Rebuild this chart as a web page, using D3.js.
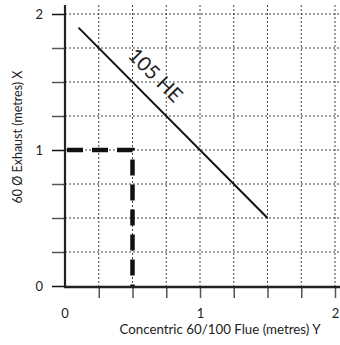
<!DOCTYPE html>
<meta charset="utf-8">
<style>
body { margin: 0; background: #fff; }
svg text { font-family: "Lato", "Open Sans", sans-serif; fill: #222; }
.grid line { stroke: #444; stroke-width: 1; stroke-dasharray: 2,2; }
</style>
<svg width="340" height="345"></svg>
<script src="https://d3js.org/d3.v7.min.js"></script>
<script>
"use strict";

// data
var gridSteps = [0.25, 0.5, 0.75, 1, 1.25, 1.5, 1.75, 2];
var tickLabels = [0, 1, 2];
var flueLine = [[0.1, 1.9], [1.5, 0.5]];      // 105 HE limit
var exampleRun = [[0, 1], [0.5, 1], [0.5, 0]];  // thick dashed example
var lineLabel = "105 HE";
var xTitle = "Concentric 60/100 Flue (metres) Y";
var yTitle = "60 \u00D8 Exhaust (metres) X";

var svg = d3.select("svg");

var x = d3.scaleLinear().domain([0, 2]).range([65, 335]);
var y = d3.scaleLinear().domain([0, 2]).range([286, 14]);

// grid
var grid = svg.append("g").attr("class", "grid");
grid.selectAll(".h").data(gridSteps).enter().append("line")
    .attr("x1", x(0)).attr("x2", 340)
    .attr("y1", function(d) { return y(d); })
    .attr("y2", function(d) { return y(d); });
grid.selectAll(".v").data(gridSteps).enter().append("line")
    .attr("y1", 5).attr("y2", y(0))
    .attr("x1", function(d) { return x(d); })
    .attr("x2", function(d) { return x(d); });

// axes
var ticks = [0].concat(gridSteps);
function fmt(d) { return tickLabels.indexOf(d) >= 0 ? d : ""; }

var yAxis = svg.append("g")
    .attr("transform", "translate(" + x(0) + ",0)")
    .call(d3.axisLeft(y).tickValues(ticks).tickFormat(fmt).tickSize(13).tickPadding(9));
yAxis.select(".domain").remove();
yAxis.selectAll(".tick line").attr("stroke", function(d) { return d % 1 == 0 ? "#111" : "#555"; }).attr("stroke-width", 1.5);
yAxis.selectAll("text").attr("font-size", 13).attr("font-family", "Lato");

var xAxis = svg.append("g")
    .attr("transform", "translate(0," + (y(0) + 1) + ")")
    .call(d3.axisBottom(x).tickValues(gridSteps).tickFormat(fmt).tickSize(11).tickPadding(11));
xAxis.select(".domain").remove();
xAxis.selectAll(".tick line").attr("stroke", "#555").attr("stroke-width", 1.5);
xAxis.selectAll("text").attr("font-size", 13).attr("font-family", "Lato");
xAxis.append("text").attr("x", x(0)).attr("y", 11 + 11).attr("dy", "0.71em")
    .attr("text-anchor", "middle").attr("font-size", 13).attr("fill", "#222").text("0");

svg.append("line").attr("x1", x(0)).attr("x2", x(0)).attr("y1", 5).attr("y2", y(0) + 2)
    .attr("stroke", "#222").attr("stroke-width", 2.2);
svg.append("line").attr("x1", x(0) - 1).attr("x2", 340).attr("y1", y(0) + 1).attr("y2", y(0) + 1)
    .attr("stroke", "#222").attr("stroke-width", 2.5);

// lines
var line = d3.line().x(function(d) { return x(d[0]); }).y(function(d) { return y(d[1]); });

svg.append("path").datum(exampleRun).attr("d", line)
    .attr("fill", "none").attr("stroke", "#111").attr("stroke-width", 4.5)
    .attr("stroke-dasharray", "16,9").attr("stroke-dashoffset", -2);

svg.append("path").datum(flueLine).attr("d", line)
    .attr("fill", "none").attr("stroke", "#111").attr("stroke-width", 2);

svg.append("text")
    .attr("transform", "translate(" + x(0.67) + "," + y(1.55) + ") rotate(45)")
    .attr("text-anchor", "middle").attr("dy", "0.35em")
    .attr("font-size", 20).text(lineLabel);

// titles
svg.append("text").attr("x", 220).attr("y", 334).attr("text-anchor", "middle")
    .attr("font-size", 13.3).text(xTitle);
svg.append("text").attr("transform", "translate(18,137) rotate(-90)")
    .attr("text-anchor", "middle").attr("dy", "0.35em")
    .attr("font-size", 12.5).text(yTitle);
</script>
